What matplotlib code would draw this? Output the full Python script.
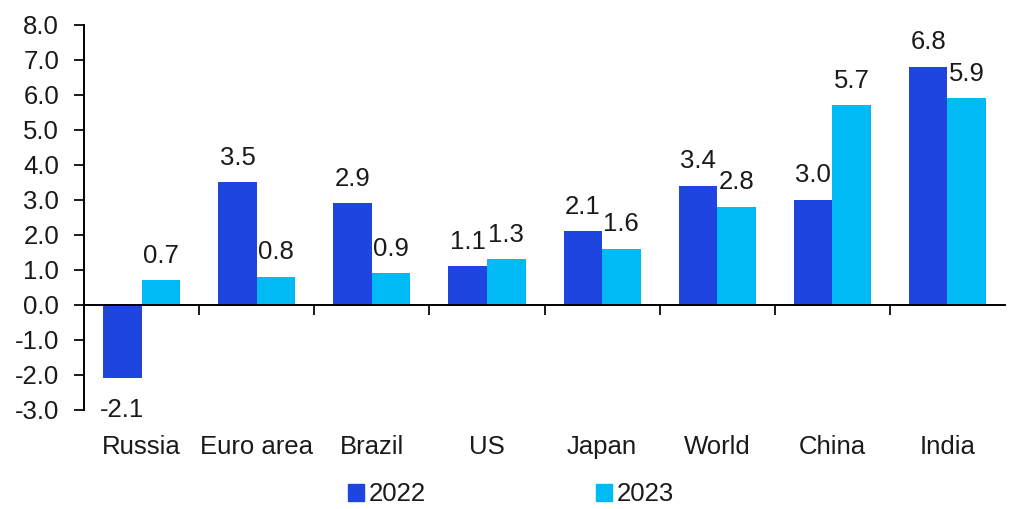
import matplotlib
matplotlib.use("Agg")
import matplotlib.pyplot as plt
import numpy as np
from matplotlib.patches import Patch

plt.rcParams["font.family"] = ["Liberation Sans", "DejaVu Sans"]
plt.rcParams["axes.unicode_minus"] = False

categories = ["Russia", "Euro area", "Brazil", "US", "Japan", "World", "China", "India"]
y2022 = [-2.1, 3.5, 2.9, 1.1, 2.1, 3.4, 3.0, 6.8]
y2023 = [0.7, 0.8, 0.9, 1.3, 1.6, 2.8, 5.7, 5.9]

C22, C23 = "#1f45e0", "#00baf5"
INK = "#1a1a1a"
FS = 18.5

fig = plt.figure(figsize=(10.09, 5.09), dpi=100)
ax = fig.add_axes([0.0833, 0.1945, 0.9127, 0.7565])

x = np.arange(len(categories))
w = 0.335
b1 = ax.bar(x - w / 2, y2022, w, color=C22, label="2022")
b2 = ax.bar(x + w / 2, y2023, w, color=C23, label="2023")

for bars, vals in ((b1, y2022), (b2, y2023)):
    for r, v in zip(bars, vals):
        cx = r.get_x() + r.get_width() / 2
        if v >= 0:
            ax.annotate("%.1f" % v, (cx, v), xytext=(0, 9), textcoords="offset points",
                        ha="center", va="bottom", fontsize=FS, color=INK)
        else:
            ax.annotate("%.1f" % v, (cx, v), xytext=(0, -14), textcoords="offset points",
                        ha="center", va="top", fontsize=FS, color=INK)

ax.set_xlim(-0.5, len(categories) - 0.5)
ax.set_ylim(-3, 8)
ax.set_yticks(np.arange(-3, 9, 1))
ax.set_yticklabels(["%.1f" % t for t in np.arange(-3, 9, 1)])

for s in ("top", "right"):
    ax.spines[s].set_visible(False)
ax.spines["bottom"].set_position(("data", 0))
ax.spines["bottom"].set_linewidth(1.4)
ax.spines["left"].set_linewidth(1.4)
ax.spines["bottom"].set_zorder(3)

ax.set_xticks(np.arange(0.5, len(categories) - 0.5, 1))
ax.set_xticklabels([])
ax.tick_params(axis="x", direction="out", length=7, width=1.4, color=INK)
ax.tick_params(axis="y", direction="out", length=7, width=1.4, color=INK,
               labelsize=FS, labelcolor=INK, pad=11)

for i, c in enumerate(categories):
    ax.annotate(c, (i, -3), xytext=(0, -18), textcoords="offset points",
                ha="center", va="top", fontsize=FS, color=INK)

handles = [Patch(color=C22, label="2022"), Patch(color=C23, label="2023")]
fig.legend(handles=handles, loc="lower center", ncol=2, frameon=False,
           fontsize=FS, bbox_to_anchor=(0.5065, -0.04), columnspacing=6.6,
           handlelength=0.62, handleheight=0.62, handletextpad=0.2,
           labelcolor=INK)

fig.savefig("out.png", dpi=100, facecolor="white")
